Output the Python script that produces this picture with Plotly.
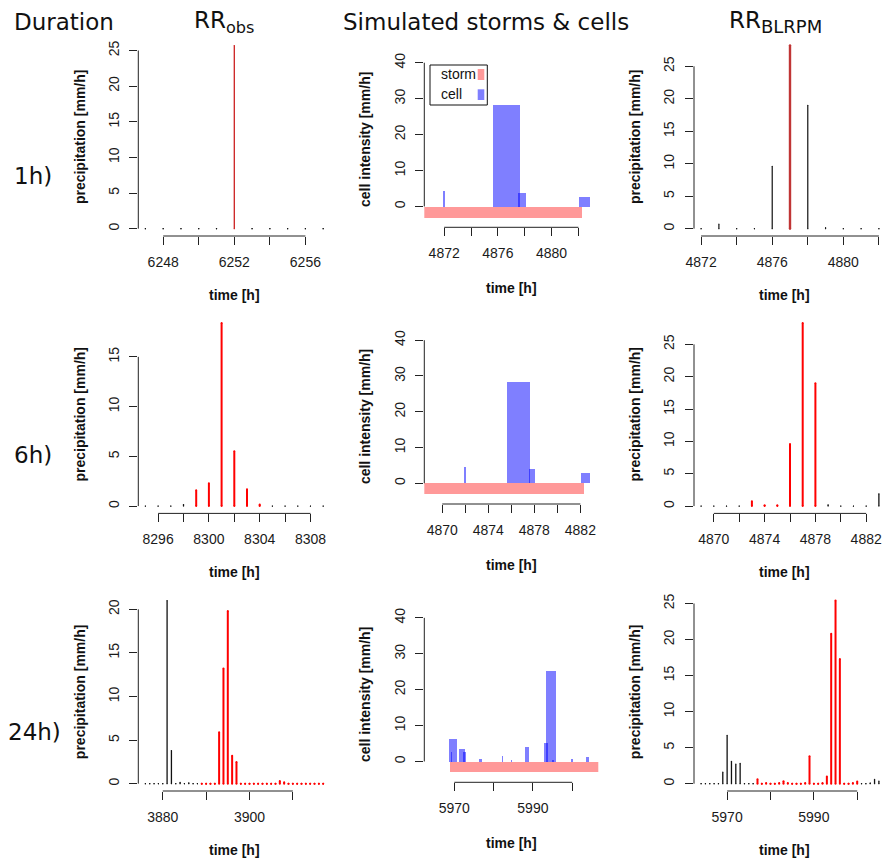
import plotly.graph_objects as go

W, H = 882, 865

# ---------------- data ----------------
# observed rainfall (RR_obs), hourly
obs1_t = [6247, 6248, 6249, 6250, 6251, 6252, 6253, 6254, 6255, 6256, 6257]
obs1_v = [0, 0, 0, 0, 0, 25.7, 0, 0, 0, 0, 0]
obs1_win = [6252, 6252]

obs6_t = [8295, 8296, 8297, 8298, 8299, 8300, 8301, 8302, 8303, 8304, 8305, 8306, 8307, 8308, 8309]
obs6_v = [0, 0, 0, 0.15, 1.6, 2.3, 18.4, 5.5, 1.7, 0.15, 0, 0, 0, 0, 0]
obs6_win = [8299, 8304]

obs24_t = [3876, 3877, 3878, 3879, 3880, 3881, 3882, 3883, 3884, 3885, 3886, 3887, 3888, 3889,
           3890, 3891, 3892, 3893, 3894, 3895, 3896, 3897, 3898, 3899, 3900, 3901, 3902, 3903,
           3904, 3905, 3906, 3907, 3908, 3909, 3910, 3911, 3912, 3913, 3914, 3915, 3916, 3917]
obs24_v = [0, 0, 0, 0, 0, 21.0, 3.8, 0, 0.15, 0, 0.1, 0, 0, 0,
           0, 0, 0, 5.9, 13.2, 19.8, 3.2, 2.5, 0, 0, 0, 0, 0, 0,
           0, 0, 0, 0.3, 0.15, 0, 0, 0, 0, 0, 0, 0, 0, 0]
obs24_win = [3889, 3917]

# simulated rainfall (RR_BLRPM), hourly
sim1_t = [4872, 4873, 4874, 4875, 4876, 4877, 4878, 4879, 4880, 4881, 4882]
sim1_v = [0, 0.7, 0, 0, 9.6, 28.2, 19.0, 0.15, 0, 0, 0]
sim1_win = [4877, 4877]

sim6_t = [4869, 4870, 4871, 4872, 4873, 4874, 4875, 4876, 4877, 4878, 4879, 4880, 4881, 4882, 4883]
sim6_v = [0, 0, 0, 0, 0.75, 0.12, 0.12, 9.6, 28.3, 19.0, 0.2, 0, 0, 0, 1.9]
sim6_win = [4873, 4878]

sim24_t = [5964, 5965, 5966, 5967, 5968, 5969, 5970, 5971, 5972, 5973, 5974, 5975, 5976, 5977,
           5978, 5979, 5980, 5981, 5982, 5983, 5984, 5985, 5986, 5987, 5988, 5989, 5990, 5991,
           5992, 5993, 5994, 5995, 5996, 5997, 5998, 5999, 6000, 6001, 6002, 6003, 6004, 6005]
sim24_v = [0, 0, 0, 0, 0, 1.6, 6.7, 3.1, 2.7, 2.8, 0, 0, 0, 0.6,
           0, 0.1, 0, 0, 0.1, 0.35, 0.1, 0, 0, 0, 0.1, 3.8, 0, 0,
           0.1, 1.0, 20.8, 25.4, 17.3, 0, 0, 0.1, 0.3, 0, 0, 0.1, 0.6, 0.35]
sim24_win = [5977, 6000]

# simulated storms & cells
storm_a = [4868.0, 4882.3]
cells_a_start = [4871.92, 4875.65, 4877.55, 4882.1]
cells_a_end = [4872.12, 4877.65, 4878.1, 4882.9]
cells_a_int = [4.5, 28.2, 3.9, 2.7]

storm_b = [5968.9, 6012.0]
cells_b_start = [5968.65, 5969.2, 5971.2, 5972.2, 5976.3, 5982.15, 5984.45, 5988.05,
                 5992.9, 5993.4, 5995.0, 5999.8, 6003.6]
cells_b_end = [5970.7, 5969.6, 5972.7, 5973.0, 5977.1, 5982.4, 5984.7, 5989.05,
               5993.9, 5996.0, 5995.45, 6000.3, 6004.4]
cells_b_int = [6.2, 2.8, 3.4, 2.8, 0.85, 1.7, 0.55, 4.2, 5.3, 25.2, 0.55, 0.85, 1.4]
storm_level = -3.0
cell_ylim = [-4, 41]

# axis limits of the cell panels
cells_xlim_1h = [4871, 4883]
cells_xlim_6h = [4869, 4883]
cells_xlim_24h = [5964, 6005]

# tick positions (all) and labelled ticks
ticks_obs1 = [6248, 6250, 6252, 6254, 6256]
lab_obs1 = [6248, 6252, 6256]
ticks_obs6 = [8296, 8298, 8300, 8302, 8304, 8306, 8308]
lab_obs6 = [8296, 8300, 8304, 8308]
ticks_obs24 = [3880, 3890, 3900, 3910]
lab_obs24 = [3880, 3900]
ticks_1h = [4872, 4874, 4876, 4878, 4880, 4882]
lab_1h = [4872, 4876, 4880]
ticks_6h = [4870, 4872, 4874, 4876, 4878, 4880, 4882]
lab_6h = [4870, 4874, 4878, 4882]
ticks_24h = [5970, 5980, 5990, 6000]
lab_24h = [5970, 5990]
yticks_25 = [0, 5, 10, 15, 20, 25]
yticks_15 = [0, 5, 10, 15]
yticks_20 = [0, 5, 10, 15, 20]
yticks_40 = [0, 10, 20, 30, 40]

row_labels = ["1h)", "6h)", "24h)"]
col_titles = ["Duration", "RR<sub>obs</sub>", "Simulated storms &amp; cells",
              "RR<sub><span style=\"font-size:18px\">BLRPM</span></sub>"]

# ---------------- layout geometry (pixels) ----------------
COLX = {1: (138.3, 330.3), 2: (424.3, 598.3), 3: (694.0, 886.0)}
ROWY = [(38.2, 236.0), (315.7, 513.4), (593.3, 791.0)]
ROWY_C = [(52.7, 227.3), (330.2, 504.0), (607.8, 782.3)]

TICKFONT = dict(family="Liberation Sans, Arial, sans-serif", size=14, color="#1a1a1a")
AXCOL = "#222222"


def ext(lim):
    d = 0.04 * (lim[1] - lim[0])
    return [lim[0] - d, lim[1] + d]


fig = go.Figure()
layout = dict(width=W, height=H, margin=dict(l=0, r=0, t=0, b=0),
              paper_bgcolor="white", plot_bgcolor="white", template="none",
              showlegend=False, barmode="overlay", bargap=0)
shapes = []
annotations = []


def suf(k):
    return "" if k == 1 else str(k)


def setup_axes(k, xpx, ypx, xr, yr, xt_all, xt_lab, yt):
    s = suf(k)
    x0, x1 = xpx
    if x1 > W:
        xr = [xr[0], xr[0] + (W - x0) / (x1 - x0) * (xr[1] - xr[0])]
        x1 = W
    common = dict(ticks="outside", ticklen=8, tickwidth=1, tickcolor=AXCOL,
                  showline=False, showgrid=False, zeroline=False, tickfont=TICKFONT,
                  automargin=False, fixedrange=True, ticklabelstandoff=5)
    layout["xaxis" + s] = dict(domain=[x0 / W, x1 / W], range=xr, anchor="y" + s,
                               tickmode="array", tickvals=xt_lab,
                               ticktext=[str(v) for v in xt_lab],
                               minor=dict(tickmode="array", tickvals=xt_all, ticks="outside",
                                          ticklen=8, tickwidth=1, tickcolor=AXCOL,
                                          showgrid=False),
                               **common)
    layout["yaxis" + s] = dict(domain=[1 - ypx[1] / H, 1 - ypx[0] / H], range=yr, anchor="x" + s,
                               tickmode="array", tickvals=yt, ticktext=[str(v) for v in yt],
                               tickangle=-90, **common)
    shapes.append(dict(type="line", xref="x" + s, yref="y" + s + " domain",
                       x0=xt_all[0], x1=xt_all[-1], y0=0, y1=0, line=dict(color=AXCOL, width=1)))
    shapes.append(dict(type="line", xref="x" + s + " domain", yref="y" + s,
                       x0=0, x1=0, y0=yt[0], y1=yt[-1], line=dict(color=AXCOL, width=1)))


def sticks(k, t, v, win, red_col="#FF0000", red_w=2.0, blk_w=1.3):
    s = suf(k)
    xb, yb, xr_, yr_ = [], [], [], []
    for ti, vi in zip(t, v):
        if win[0] <= ti <= win[1]:
            xr_ += [ti, ti, None]
            yr_ += [0, vi, None]
        else:
            xb += [ti, ti, None]
            yb += [0, vi, None]
    for xx, yy, col, w in ((xb, yb, "#111111", blk_w), (xr_, yr_, red_col, red_w)):
        if xx:
            fig.add_trace(go.Scatter(x=xx, y=yy, mode="lines+markers",
                                     line=dict(color=col, width=w),
                                     marker=dict(size=w, color=col),
                                     xaxis="x" + s, yaxis="y" + s, hoverinfo="skip"))


def cells(k, storm, cs, ce, ci):
    s = suf(k)
    fig.add_trace(go.Bar(x=[(storm[0] + storm[1]) / 2], y=[storm_level], base=0,
                         width=[storm[1] - storm[0]],
                         marker=dict(color="rgba(255,0,0,0.4)", line=dict(width=0)),
                         xaxis="x" + s, yaxis="y" + s, hoverinfo="skip"))
    fig.add_trace(go.Bar(x=[(a + b) / 2 for a, b in zip(cs, ce)], y=ci, base=0,
                         width=[b - a for a, b in zip(cs, ce)],
                         marker=dict(color="rgba(0,0,255,0.5)", line=dict(width=0)),
                         xaxis="x" + s, yaxis="y" + s, hoverinfo="skip"))


# ---- column 1: observed ----
obs_sets = [(obs1_t, obs1_v, obs1_win, ticks_obs1, lab_obs1, yticks_25),
            (obs6_t, obs6_v, obs6_win, ticks_obs6, lab_obs6, yticks_15),
            (obs24_t, obs24_v, obs24_win, ticks_obs24, lab_obs24, yticks_20)]
for r, (t, v, win, xt, xl, yt) in enumerate(obs_sets):
    k = r * 3 + 1
    setup_axes(k, COLX[1], ROWY[r], ext([t[0], t[-1]]), ext([0, max(v)]), xt, xl, yt)
    if r == 0:
        sticks(k, t, v, win, red_col="#CC1F1F", red_w=1.3)
    else:
        sticks(k, t, v, win)

# ---- column 2: storms & cells ----
cell_sets = [(cells_xlim_1h, storm_a, cells_a_start, cells_a_end, cells_a_int, ticks_1h, lab_1h),
             (cells_xlim_6h, storm_a, cells_a_start, cells_a_end, cells_a_int, ticks_6h, lab_6h),
             (cells_xlim_24h, storm_b, cells_b_start, cells_b_end, cells_b_int, ticks_24h, lab_24h)]
for r, (xlim, st, cs, ce, ci, xt, xl) in enumerate(cell_sets):
    k = r * 3 + 2
    setup_axes(k, COLX[2], ROWY_C[r], ext(xlim), ext(cell_ylim), xt, xl, yticks_40)
    cells(k, st, cs, ce, ci)

# ---- column 3: BLRPM ----
sim_sets = [(sim1_t, sim1_v, sim1_win, ticks_1h, lab_1h),
            (sim6_t, sim6_v, sim6_win, ticks_6h, lab_6h),
            (sim24_t, sim24_v, sim24_win, ticks_24h, lab_24h)]
for r, (t, v, win, xt, xl) in enumerate(sim_sets):
    k = r * 3 + 3
    setup_axes(k, COLX[3], ROWY[r], ext([t[0], t[-1]]), ext([0, max(v)]), xt, xl, yticks_25)
    if r == 0:
        sticks(k, t, v, win, red_col="#C03535", red_w=2.4, blk_w=1.2)
    else:
        sticks(k, t, v, win)


# ---------------- text ----------------
def px_ann(text, x, y, size, xanchor="left", yanchor="middle", angle=0,
           family="DejaVu Sans, sans-serif", color="#111111"):
    annotations.append(dict(text=text, x=x / W, y=1 - y / H, xref="paper", yref="paper",
                            xanchor=xanchor, yanchor=yanchor, showarrow=False, textangle=angle,
                            font=dict(family=family, size=size, color=color)))


HEADER_X = [12, 192, 341, 727]
for txt, x in zip(col_titles, HEADER_X):
    px_ann(txt, x, 22, 23)
ROW_LABEL_X = [12, 12, 6]
ROW_LABEL_Y = [176, 454.5, 732]
for txt, x, y in zip(row_labels, ROW_LABEL_X, ROW_LABEL_Y):
    px_ann(txt, x, y, 23)

SANS = "Liberation Sans, Arial, sans-serif"
for r in range(3):
    yc = (ROWY[r][0] + ROWY[r][1]) / 2
    px_ann("<b>precipitation [mm/h]</b>", 80, yc, 14, xanchor="center", angle=-90, family=SANS)
    px_ann("<b>precipitation [mm/h]</b>", 635, yc, 14, xanchor="center", angle=-90, family=SANS)
    ycc = (ROWY_C[r][0] + ROWY_C[r][1]) / 2
    px_ann("<b>cell intensity [mm/h]</b>", 365, ycc, 14, xanchor="center", angle=-90, family=SANS)
    px_ann("<b>time [h]</b>", (COLX[1][0] + COLX[1][1]) / 2, ROWY[r][1] + 59, 14,
           xanchor="center", family=SANS)
    px_ann("<b>time [h]</b>", 784.5, ROWY[r][1] + 59, 14, xanchor="center", family=SANS)
    px_ann("<b>time [h]</b>", (COLX[2][0] + COLX[2][1]) / 2, ROWY_C[r][1] + 61, 14,
           xanchor="center", family=SANS)

# legend in the first cell panel
shapes.append(dict(type="rect", xref="paper", yref="paper", x0=430 / W, x1=487.3 / W,
                   y0=1 - 105 / H, y1=1 - 65 / H, line=dict(color="#111111", width=1),
                   fillcolor="white", layer="above"))
shapes.append(dict(type="rect", xref="paper", yref="paper", x0=477.7 / W, x1=484.3 / W,
                   y0=1 - 80 / H, y1=1 - 69 / H, line=dict(width=0),
                   fillcolor="rgba(255,0,0,0.4)", layer="above"))
shapes.append(dict(type="rect", xref="paper", yref="paper", x0=477.7 / W, x1=484.3 / W,
                   y0=1 - 100 / H, y1=1 - 89.3 / H, line=dict(width=0),
                   fillcolor="rgba(0,0,255,0.5)", layer="above"))
px_ann("storm", 439, 74.5, 14, family=SANS)
px_ann("cell", 439, 94.5, 14, family=SANS)

layout["shapes"] = shapes
layout["annotations"] = annotations
fig.update_layout(**layout)
fig.write_html("out.html", config={"displayModeBar": False},
               post_script="document.body.style.margin='0';document.body.style.padding='0';")
